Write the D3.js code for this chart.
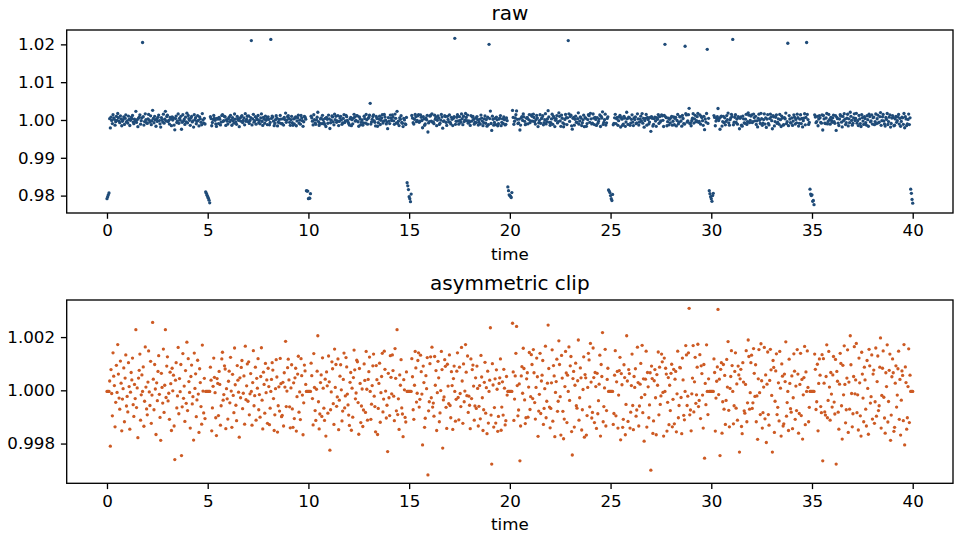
<!DOCTYPE html>
<html>
<head>
<meta charset="utf-8">
<script src="https://cdn.jsdelivr.net/npm/d3@7"></script>
<style>
  body { margin: 0; background: #fff; }
  svg { display: block; font-family: "DejaVu Sans", sans-serif; }
</style>
</head>
<body>
<svg id="chart" width="960" height="540"></svg>
<script>
// DATA //

// evenly sampled series, 30 samples per time unit, from t = 0 to t = 40
const tStart = 0
const tEnd = 40

// clipped flux, offset from 1 in units of 1e-5, one row per time unit
const clipped = [
  -4,-4,-4,-4,35,-210,78,-12,-96,141,53,18,-137,-45,94,-8,172,61,-29,-71,110,27,-152,-33,6,84,-118,46,133,-59,
  -23,-81,104,14,-146,-7,67,39,121,-54,-98,22,-31,228,-65,9,-178,46,75,136,-112,-17,58,-4,88,-135,-41,163,12,-70,
  -92,31,148,-6,-57,109,-124,-18,255,42,-73,97,5,-166,28,-39,71,130,-15,-102,-188,64,11,-48,155,-83,19,228,-27,91,
  126,-40,-11,-109,68,25,-151,83,-2,57,-134,-260,38,104,-66,-21,161,-88,44,-5,97,-245,-62,138,-30,16,-117,74,-49,181,
  -76,119,33,-8,-142,52,95,-51,-24,-187,140,7,62,-99,-36,113,-14,-158,81,29,-61,-127,170,-3,-85,45,-106,-4,-4,-4,
  -4,-4,-4,-4,87,38,-152,-66,15,121,49,-9,-103,-170,44,26,-95,71,22,-131,-58,118,143,-37,-16,92,80,-144,6,-32,
  -108,34,72,-47,124,-3,-139,60,-19,-84,159,21,-56,-114,93,38,-7,-176,47,-28,86,112,-69,-11,54,-127,166,-35,17,99,
  -41,107,-92,-13,63,-4,-131,29,149,-58,-20,87,-112,45,8,119,-73,-16,-101,52,160,-37,-145,68,22,-86,101,-9,39,-124,
  83,14,-129,-67,-4,41,104,76,-31,-151,-92,6,115,50,-157,-58,13,-78,120,25,-99,-94,30,-134,66,12,184,-61,-3,85,
  117,39,-62,-141,9,96,-70,-139,28,-106,47,83,-153,-24,61,128,-82,-6,-110,119,55,-18,-167,-47,95,73,22,-4,-4,-4,
  -4,-4,-4,-4,102,55,-31,-130,138,11,-76,-113,4,72,205,-43,-145,-89,29,58,-98,122,8,-67,-113,42,-172,69,17,-86,
  129,32,-225,-73,-6,107,81,-50,-128,155,11,97,-60,-25,118,-148,-37,53,96,2,-115,-78,41,140,-66,-21,123,88,-14,-55,
  -93,-132,30,67,-150,8,-101,48,151,77,-32,-10,113,107,-46,-165,82,26,-121,-59,5,-136,-74,99,37,-83,146,4,-112,41,
  70,125,-4,-109,-52,18,92,136,-22,-61,-156,93,40,-166,-68,26,102,-120,-9,52,139,-81,-33,147,79,-3,-104,-56,-230,64,
  -28,-95,130,49,-13,133,74,-22,-114,157,45,-77,228,-91,-32,-147,58,19,115,-66,-89,-174,40,2,-102,-119,69,-4,-4,-4,
  -4,-4,-4,-4,119,51,-73,-109,19,146,84,-44,-11,112,141,-63,-34,132,70,-14,-205,91,29,-139,-105,55,6,123,-318,-77,
  -43,100,126,-28,162,-63,-48,-97,127,19,74,-151,-9,109,47,-118,-85,-1,146,78,-217,-36,-25,115,90,-64,-143,98,16,-50,
  133,-57,-103,70,18,-147,44,91,-4,-116,-34,72,141,-27,-111,87,-12,-61,161,35,-124,99,-43,-3,172,68,-20,129,-83,-22,
  -56,-144,118,-31,78,95,16,-112,-59,47,-68,91,7,-134,-60,18,-107,131,50,-28,-151,-73,30,105,-86,10,-163,72,-123,-4,
  38,235,-93,-277,100,20,-138,-65,43,-123,77,4,-154,-98,26,47,118,-150,-63,32,-93,79,8,-130,-114,52,-18,-4,-4,-4,
  -4,-4,-4,-4,252,69,-113,-33,54,139,240,18,-96,-74,24,-265,-134,54,89,-11,158,82,-36,-125,-103,43,66,-101,12,142,
  -72,-24,134,97,-31,153,66,-46,-108,11,121,51,-173,-78,-15,139,-87,35,57,112,-128,-68,6,166,-103,-41,27,245,82,-63,
  -141,-68,28,152,-116,93,54,-174,-8,33,117,-79,-41,186,97,-24,-168,131,46,-79,-182,-108,14,146,65,-121,57,-4,163,-38,
  92,127,-155,-243,44,71,-138,19,102,-58,-67,36,189,-112,-28,84,47,-149,-73,3,126,-176,59,47,-168,-95,11,139,114,-62,
  176,31,-104,-83,159,48,-121,67,14,-143,64,-88,-39,23,132,-172,97,52,217,-118,-61,9,154,-134,-76,41,83,-4,-4,-4,
  -4,-4,-4,-4,-128,-87,57,149,-96,32,71,-142,-18,74,124,-186,63,21,-139,-109,96,48,-167,-53,205,35,-117,78,63,-142,
  -82,18,136,-57,-148,52,11,81,-97,-74,162,29,-134,-59,23,101,-27,169,-84,43,-191,-16,42,147,-138,67,13,-103,-55,66,
  -300,91,44,-162,-115,36,78,-28,-167,59,19,144,-92,87,-53,-21,136,107,-8,-172,121,-4,83,61,-153,-45,48,-129,19,-76,
  64,98,-137,-34,79,-126,42,71,-156,-13,147,-103,-57,86,84,-27,-163,121,39,-94,-111,-4,168,133,-57,-22,141,308,-92,-74,
  -152,-13,46,168,-81,32,124,-49,-17,87,173,-61,-38,134,-106,92,63,-18,-142,97,-255,26,-54,171,-4,-91,43,-4,-4,-4,
  -4,-4,-4,-4,118,67,-153,-29,34,88,304,-16,42,-245,79,104,-161,-43,97,-71,56,-128,-38,116,12,183,-75,-137,7,52,
  149,93,-4,-126,-58,71,141,-67,24,-112,91,58,-232,43,79,-136,-163,104,31,-77,-86,22,149,-118,-47,189,127,-71,-9,104,
  132,-68,-47,157,64,-23,96,-118,-21,-184,43,153,-9,-91,175,36,-142,-84,12,161,-107,58,-196,23,144,-91,-131,37,154,77,
  -19,-232,112,86,-158,-41,73,137,-91,-64,28,-115,146,8,-172,99,53,-134,-126,61,33,182,-97,-46,-4,-151,117,26,-69,-82,
  54,-144,-28,137,72,-109,16,-76,153,61,-161,-87,22,139,-95,41,-183,-17,48,165,-129,69,-4,148,11,-118,-64,-4,-4,-4,
  -4,-4,-4,-4,136,79,-72,-43,98,-152,26,118,57,-61,-84,134,-265,119,27,-81,-93,52,171,-103,-38,146,12,-112,67,-14,
  -63,58,127,-44,-89,116,-277,71,34,-82,-146,23,139,101,-58,-183,94,-17,167,22,-122,-73,46,152,-158,31,-71,205,96,-12,
  -137,-88,52,164,-13,39,176,-84,-17,-149,121,28,-96,-172,143,61,-29,-118,87,39,-71,-134,112,7,-165,154,92,-48,-24,133,
  -108,61,76,-124,-43,159,-97,33,129,-76,-58,87,197,-142,-19,83,148,-26,-104,-161,66,14,171,-119,-42,75,136,-188,-93,51,
  118,66,-154,-139,27,92,-63,-18,81,147,-109,41,-168,-37,73,56,-114,172,-205,88,29,-146,-103,14,156,-121,57,-4,-4,-4,
  -4
]

// samples that differ in the raw series: dips near 0.98 and spikes near 1.02 (same units)
const rawIdx = [
  0, 1, 2, 3,
  147, 148, 149, 150, 151, 152, 153,
  297, 298, 299, 300, 301, 302, 303,
  447, 448, 449, 450, 451, 452, 453,
  597, 598, 599, 600, 601, 602, 603,
  747, 748, 749, 750, 751, 752, 753,
  897, 898, 899, 900, 901, 902, 903,
  1047, 1048, 1049, 1050, 1051, 1052, 1053,
  1197, 1198, 1199, 1200,
  53, 215, 244, 392, 518, 569, 687, 831, 861, 894, 932, 1014, 1042
]
const rawDev = [
  -2080, -2030, -1980, -1930,
  -1900, -1940, -1990, -2030, -2070, -2120, -2190,
  -1870, -1880, -1880, -2080, -2070, -2070, -1950,
  -1660, -1740, -1840, -2030, -2080, -2160, -1960,
  -1770, -1870, -1980, -2000, -2020, -2050, -1920,
  -1850, -1880, -1920, -2000, -2080, -2130, -1970,
  -1870, -1950, -2030, -2080, -2150, -2000, -1940,
  -1830, -1960, -2000, -1980, -2150, -2130, -2240,
  -1830, -1940, -2100, -2200,
  2050, 2100, 2130, 440, 2160, 2000, 2100, 2000, 1950, 1870, 2130, 2030, 2050
]

const xTicks = [0, 5, 10, 15, 20, 25, 30, 35, 40]
const rawTicks = [0.98, 0.99, 1.00, 1.01, 1.02]
const clipTicks = [0.998, 1.000, 1.002]
const titles = ['raw', 'asymmetric clip']
const xLabel = 'time'

// BUILD SERIES //

const sampleTime = d3.scaleLinear().domain([0, clipped.length - 1]).range([tStart, tEnd])
const clipData = clipped.map((d, i) => ({ t: sampleTime(i), f: 1 + d * 1e-5 }))
const rawData = clipData.map(d => ({ t: d.t, f: d.f }))
rawIdx.forEach((k, j) => { rawData[k].f = 1 + rawDev[j] * 1e-5 })

// DRAW //

const svg = d3.select('svg')

function padded(ext) {
  const p = (ext[1] - ext[0]) * 0.05
  return [ext[0] - p, ext[1] + p]
}

function drawPanel(data, opts) {
  const w = opts.width
  const h = opts.height
  const g = svg.append('g').attr('transform', `translate(${opts.left},${opts.top})`)

  const x = d3.scaleLinear().domain(padded(d3.extent(data, d => d.t))).range([0, w])
  const y = d3.scaleLinear().domain(padded(d3.extent(data, d => d.f))).range([h, 0])

  g.append('g')
    .selectAll('circle')
    .data(data)
    .enter()
    .append('circle')
    .attr('cx', d => x(d.t))
    .attr('cy', d => y(d.f))
    .attr('r', 1.65)
    .attr('fill', opts.color)

  const xAxis = g.append('g')
    .attr('transform', `translate(0,${h})`)
    .call(d3.axisBottom(x).tickValues(xTicks).tickSize(5.8).tickPadding(5.8).tickFormat(d3.format('d')))
  const yAxis = g.append('g')
    .call(d3.axisLeft(y).tickValues(opts.ticks).tickSize(5.8).tickPadding(5.8).tickFormat(d3.format(opts.fmt)))

  for (const a of [xAxis, yAxis]) {
    a.select('.domain').remove()
    a.attr('font-size', 16.7).attr('font-family', null)
    a.selectAll('line').attr('stroke', '#000').attr('stroke-width', 1.33)
    a.selectAll('text').attr('fill', '#000')
  }

  g.append('rect')
    .attr('width', w)
    .attr('height', h)
    .attr('fill', 'none')
    .attr('stroke', '#000')
    .attr('stroke-width', 1.33)

  g.append('text')
    .attr('x', w / 2)
    .attr('y', -10)
    .attr('text-anchor', 'middle')
    .attr('font-size', 20)
    .text(opts.title)

  g.append('text')
    .attr('x', w / 2)
    .attr('y', h + 47)
    .attr('text-anchor', 'middle')
    .attr('font-size', 16.7)
    .text(xLabel)
}

drawPanel(rawData, { left: 66.7, top: 30, width: 886.3, height: 183, ticks: rawTicks, fmt: '.2f', color: '#1f4b78', title: titles[0] })
drawPanel(clipData, { left: 66.7, top: 300, width: 886.3, height: 183.3, ticks: clipTicks, fmt: '.3f', color: '#cd5a23', title: titles[1] })
</script>
</body>
</html>
